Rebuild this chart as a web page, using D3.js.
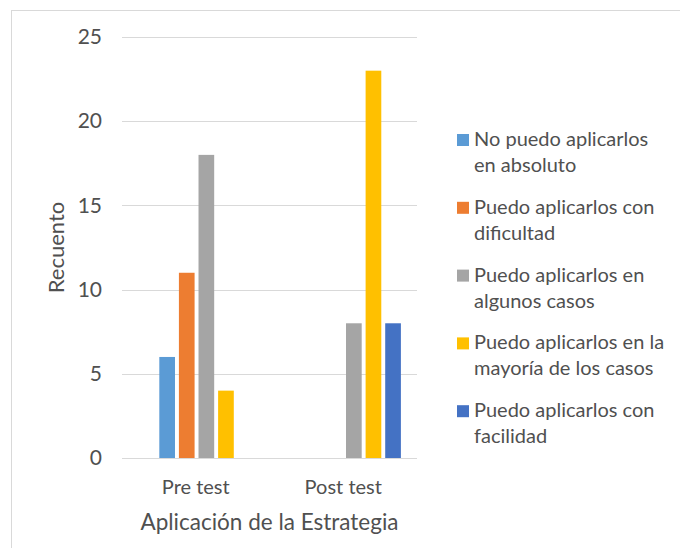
<!DOCTYPE html>
<html>
<head>
<meta charset="utf-8">
<script src="https://cdn.jsdelivr.net/npm/d3@7"></script>
<style>
  body { margin: 0; background: #fff; }
  text { font-family: Lato, "Open Sans", sans-serif; fill: #505050; }
</style>
</head>
<body>
<div id="canvas"></div>
<script>
const categories = ["Pre test", "Post test"];
const series = [
  "No puedo aplicarlos en absoluto",
  "Puedo aplicarlos con dificultad",
  "Puedo aplicarlos en algunos casos",
  "Puedo aplicarlos en la mayoría de los casos",
  "Puedo aplicarlos con facilidad"
];
// legend text broken the way it wraps in the picture
const legendLines = [
  ["No puedo aplicarlos", "en absoluto"],
  ["Puedo aplicarlos con", "dificultad"],
  ["Puedo aplicarlos en", "algunos casos"],
  ["Puedo aplicarlos en la", "mayoría de los casos"],
  ["Puedo aplicarlos con", "facilidad"]
];
const preTest = [6, 11, 18, 4, 0];
const postTest = [0, 0, 8, 23, 8];
const yTicks = [0, 5, 10, 15, 20, 25];
const colors = ["#5B9BD5", "#ED7D31", "#A5A5A5", "#FFC000", "#4472C4"];

const width = 680;
const height = 548;
const margin = { top: 37, left: 122, bottom: 90, right: 263 };
const iwidth = width - margin.left - margin.right;
const iheight = height - margin.top - margin.bottom;

const data = categories.map((c, i) => ({
  name: c,
  values: series.map((s, j) => ({ key: s, value: [preTest, postTest][i][j], idx: j }))
}));

const svg = d3.select("#canvas").append("svg")
  .attr("width", width)
  .attr("height", height);

// outer chart frame
svg.append("rect")
  .attr("x", 11.5).attr("y", 10.5)
  .attr("width", width + 10).attr("height", height + 10)
  .attr("fill", "none")
  .attr("stroke", "#d9d9d9");

const g = svg.append("g")
  .attr("transform", `translate(${margin.left},${margin.top})`);

const x0 = d3.scaleBand().domain(categories).range([0, iwidth]);
const groupW = 98;
const shift = 10.6;
const x1 = d3.scaleBand()
  .domain(series)
  .range([x0.bandwidth() / 2 - groupW / 2 + shift, x0.bandwidth() / 2 + groupW / 2 + shift])
  .paddingInner(0.2)
  .paddingOuter(0.1);

const y = d3.scaleLinear().domain([0, 25]).range([iheight, 0]);

// gridlines
g.append("g").selectAll("line").data(yTicks).enter().append("line")
  .attr("x1", 0).attr("x2", iwidth)
  .attr("y1", (d) => Math.round(y(d)) + 0.5)
  .attr("y2", (d) => Math.round(y(d)) + 0.5)
  .attr("stroke", "#d9d9d9")
  .attr("stroke-width", 1);

// y axis labels
const yAxis = g.append("g").classed("y--axis", true)
  .attr("transform", "translate(-20,0)")
  .call(d3.axisLeft(y).tickValues(yTicks).tickSize(0).tickPadding(0));
yAxis.select(".domain").remove();
yAxis.selectAll("text").style("font-size", "21px").attr("fill", "#505050");

// x axis labels
const xAxis = g.append("g").classed("x--axis", true)
  .attr("transform", `translate(0,${iheight})`)
  .call(d3.axisBottom(x0).tickSize(0).tickPadding(22));
xAxis.select(".domain").remove();
xAxis.selectAll("text").style("font-size", "20px").attr("fill", "#505050");

// bars
const groups = g.selectAll(".grp").data(data).enter().append("g")
  .attr("class", "grp")
  .attr("transform", (d) => `translate(${x0(d.name)},0)`);

groups.selectAll("rect").data((d) => d.values.filter((v) => v.value > 0))
  .enter().append("rect")
  .attr("x", (d) => x1(d.key))
  .attr("y", (d) => y(d.value))
  .attr("width", x1.bandwidth())
  .attr("height", (d) => iheight - y(d.value))
  .attr("fill", (d) => colors[d.idx]);

// axis titles
svg.append("text")
  .attr("transform", `translate(64,${margin.top + iheight / 2}) rotate(-90)`)
  .attr("text-anchor", "middle")
  .style("font-size", "22px")
  .text("Recuento");

svg.append("text")
  .attr("x", margin.left + iwidth / 2)
  .attr("y", 530)
  .attr("text-anchor", "middle")
  .style("font-size", "22.5px")
  .text("Aplicación de la Estrategia");

// legend
const legend = svg.append("g").selectAll("g").data(series).enter().append("g")
  .attr("transform", (d, i) => `translate(457,${146 + i * 67.8})`);

legend.append("rect")
  .attr("x", 0).attr("y", -12)
  .attr("width", 12).attr("height", 12)
  .attr("fill", (d, i) => colors[i]);

legend.append("text")
  .attr("x", 17)
  .style("font-size", "20px")
  .selectAll("tspan").data((d, i) => legendLines[i]).enter().append("tspan")
  .attr("x", 17)
  .attr("dy", (d, i) => (i === 0 ? 0 : 26))
  .text((d) => d);
</script>
</body>
</html>
